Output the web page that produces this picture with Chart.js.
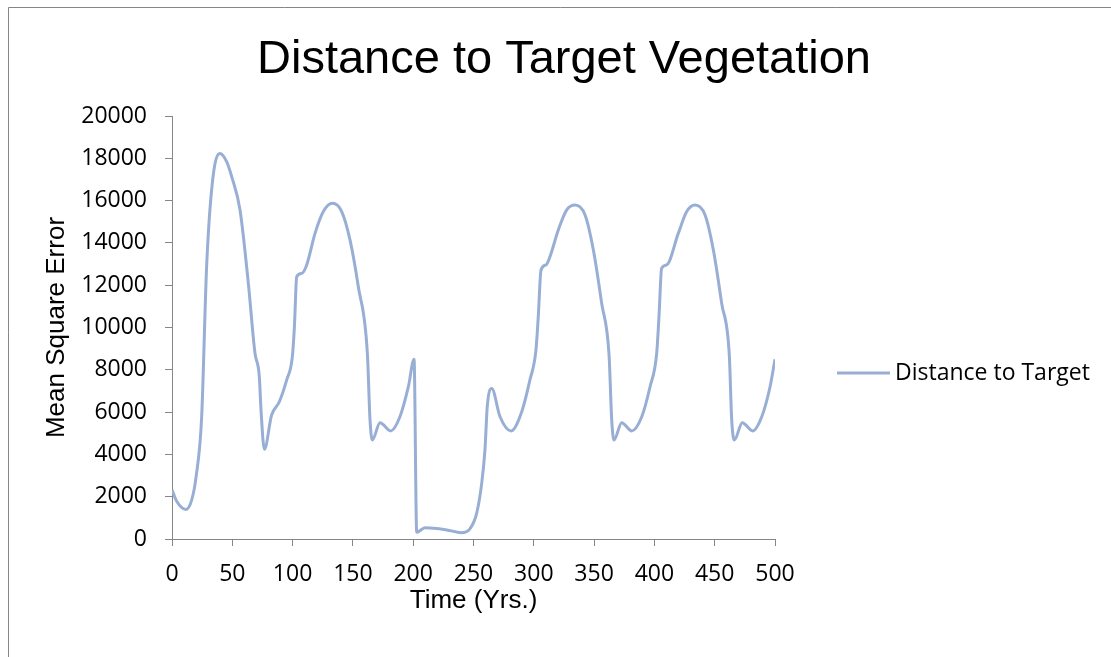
<!DOCTYPE html>
<html>
<head>
<meta charset="utf-8">
<script src="https://cdn.jsdelivr.net/npm/chart.js@4"></script>
<style>
    html, body { margin: 0; padding: 0; background: #fff; }
    #wrap { width: 1111px; height: 657px; }
</style>
</head>
<body>
<div id="wrap"><canvas id="distanceChart"></canvas></div>
<script>
const years = [0, 4, 11.6, 16.3, 20, 24.6, 28.7, 33.7, 39.8, 45.3, 49.5, 56.4, 63.3, 68.8, 72.4, 73.8, 76.6,
    82.6, 89, 95.1, 99.8, 101.5, 103.4, 107.5, 111.7, 118.6, 125.5, 133, 140.7, 147.6, 154.5, 162, 164.2, 166.1,
    172.5, 181.3, 189, 196, 200.7, 202.9, 209.8, 227.8, 240, 247, 252.6, 256.8, 259.5, 261.4, 265.1, 272, 281.1,
    290, 296.8, 301.8, 303.7, 306, 310.1, 313.4, 320.3, 327.3, 334.2, 342.5, 349.4, 356.3, 362.4, 364.6, 366.5,
    372.9, 381.2, 389.5, 396.4, 401.9, 403.8, 406, 410.2, 419.8, 426.8, 433.7, 442, 448.9, 455.8, 462.1, 464.1,
    466.3, 472.9, 481.5, 489, 495.9, 500];
const meanSquareError = [2320, 1770, 1400, 1840, 2950, 5780, 12880, 16970, 18230, 17840, 17130, 15560, 12090, 8790, 7680, 6100, 4240,
    5860, 6490, 7520, 8620, 10040, 12400, 12560, 12960, 14450, 15480, 15870, 15480, 14140, 11930, 8780, 5630, 4680,
    5500, 5110, 5780, 7200, 8500, 320, 530, 430, 300, 480, 1215, 2630, 4210, 6260, 7120, 5780, 5110,
    6020, 7520, 8940, 10510, 12720, 12960, 13350, 14610, 15560, 15790, 15320, 13660, 11140, 8700, 5630, 4680,
    5500, 5110, 5780, 7200, 8780, 10510, 12800, 12960, 14450, 15480, 15790, 15320, 13660, 11140, 8700, 5630,
    4680, 5500, 5110, 5780, 7200, 8500];
const xTicks = [0, 50, 100, 150, 200, 250, 300, 350, 400, 450, 500];
const yTicks = [0, 2000, 4000, 6000, 8000, 10000, 12000, 14000, 16000, 18000, 20000];

const lineColor = '#98aed4';
const axisColor = '#868686';
const tickFont = { family: 'Open Sans', size: 23 };
const titleFont = { family: 'Liberation Sans', size: 26 };

// frame, big title and the side legend are drawn by hand so they sit where the original has them
const decor = {
    id: 'decor',
    beforeDraw(chart) {
        const ctx = chart.ctx;
        ctx.save();
        ctx.strokeStyle = axisColor;
        ctx.lineWidth = 1;
        ctx.beginPath();
        ctx.moveTo(8.5, chart.height + 2);
        ctx.lineTo(8.5, 7.5);
        ctx.lineTo(chart.width + 2, 7.5);
        ctx.stroke();
        ctx.restore();
    },
    afterDraw(chart) {
        const ctx = chart.ctx;
        ctx.save();
        ctx.fillStyle = '#000';
        ctx.font = '47px "Liberation Sans"';
        ctx.textAlign = 'center';
        ctx.textBaseline = 'alphabetic';
        ctx.fillText('Distance to Target Vegetation', 564, 73);

        const ds = chart.data.datasets[0];
        ctx.strokeStyle = ds.borderColor;
        ctx.lineWidth = ds.borderWidth;
        ctx.beginPath();
        ctx.moveTo(837, 373);
        ctx.lineTo(890, 373);
        ctx.stroke();
        ctx.font = '23px "Open Sans"';
        ctx.textAlign = 'left';
        ctx.textBaseline = 'middle';
        ctx.fillText(ds.label, 895, 373);
        ctx.restore();
    }
};

new Chart(document.getElementById('distanceChart'), {
    type: 'line',
    data: {
        datasets: [{
            label: 'Distance to Target',
            data: years.map((x, i) => ({ x: x, y: meanSquareError[i] })),
            borderColor: lineColor,
            borderWidth: 3,
            pointRadius: 0,
            fill: false,
            cubicInterpolationMode: 'monotone'
        }]
    },
    options: {
        responsive: true,
        maintainAspectRatio: false,
        animation: false,
        layout: { padding: { left: 41, right: 336, top: 116, bottom: 41 } },
        scales: {
            x: {
                type: 'linear',
                min: 0,
                max: 500,
                afterBuildTicks: scale => { scale.ticks = xTicks.map(v => ({ value: v })); },
                afterFit: scale => { scale.height = 77; },
                border: { display: true, color: axisColor, width: 1 },
                grid: { display: true, drawOnChartArea: false, drawTicks: true, tickLength: 7, color: axisColor },
                ticks: { color: '#000', font: tickFont, padding: 15, maxRotation: 0 },
                title: { display: true, text: 'Time (Yrs.)', color: '#000', font: titleFont, padding: 0 }
            },
            y: {
                min: 0,
                max: 20000,
                afterBuildTicks: scale => { scale.ticks = yTicks.map(v => ({ value: v })); },
                afterFit: scale => { scale.width = 131; },
                border: { display: true, color: axisColor, width: 1 },
                grid: { display: true, drawOnChartArea: false, drawTicks: true, tickLength: 7, color: axisColor },
                ticks: { color: '#000', font: tickFont, padding: 18, callback: v => String(v) },
                title: { display: true, text: 'Mean Square Error', color: '#000', font: titleFont, padding: 0 }
            }
        },
        plugins: {
            legend: { display: false },
            title: { display: false },
            tooltip: { enabled: false }
        }
    },
    plugins: [decor]
});
</script>
</body>
</html>
